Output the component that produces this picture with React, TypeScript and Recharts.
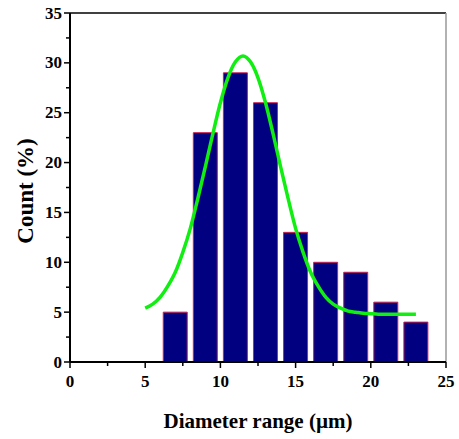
import React from 'react';
import { ComposedChart, Bar, Line, XAxis, YAxis, Label, ReferenceLine } from 'recharts';

// histogram bins (bin centre, µm) and counts (%)
const binCenters = [7, 9, 11, 13, 15, 17, 19, 21, 23];
const binCounts = [5, 23, 29, 26, 13, 10, 9, 6, 4];

// gaussian fit curve
const fitX = [5, 5.5, 6, 6.5, 7, 7.5, 8, 8.5, 9, 9.5, 10, 10.5, 11, 11.5, 12, 12.5, 13, 13.5, 14, 14.5, 15, 15.5, 16, 16.5, 17, 17.5, 18, 18.5, 19, 19.5, 20, 20.5, 21, 21.5, 22, 22.5, 23];
const fitY = [5.4, 5.8, 6.5, 7.6, 9.0, 11.0, 13.4, 16.4, 19.6, 22.9, 26.0, 28.5, 30.1, 30.7, 30.1, 28.5, 26.0, 22.9, 19.6, 16.4, 13.4, 11.0, 9.0, 7.6, 6.5, 5.8, 5.4, 5.1, 5.0, 4.9, 4.85, 4.8, 4.8, 4.8, 4.8, 4.8, 4.8];

const xTicks = [0, 2.5, 5, 7.5, 10, 12.5, 15, 17.5, 20, 22.5, 25];
const yTicks = [0, 2.5, 5, 7.5, 10, 12.5, 15, 17.5, 20, 22.5, 25, 27.5, 30, 32.5, 35];

const barData = binCenters.map((x, i) => ({ x, count: binCounts[i] }));
const fitData = fitX.map((x, i) => ({ fx: x, fit: fitY[i] }));

const FONT = '"Liberation Serif", "Times New Roman", serif';

const XTick = ({ x, y, payload }: any) => {
  const major = payload.value % 5 === 0;
  return (
    <g>
      <line x1={x} x2={x} y1={y} y2={y + (major ? 6 : 4)} stroke="#000" strokeWidth={1.5} />
      {major && (
        <text x={x} y={y + 25} textAnchor="middle" fontFamily={FONT} fontWeight="bold" fontSize={17} fill="#000">
          {payload.value}
        </text>
      )}
    </g>
  );
};

const YTick = ({ x, y, payload }: any) => {
  const major = payload.value % 5 === 0;
  return (
    <g>
      <line x1={x} x2={x - (major ? 6 : 4)} y1={y} y2={y} stroke="#000" strokeWidth={1.5} />
      {major && (
        <text x={x - 8} y={y + 5.5} textAnchor="end" fontFamily={FONT} fontWeight="bold" fontSize={17} fill="#000">
          {payload.value}
        </text>
      )}
    </g>
  );
};

export default function App() {
  return (
    <div style={{ position: 'absolute', left: 0, top: 0, width: 459, height: 439, background: '#fff' }}>
      <ComposedChart width={459} height={439} data={barData} margin={{ top: 13, right: 13, bottom: 0, left: 10 }}>
        <XAxis
          xAxisId="main"
          dataKey="x"
          type="number"
          domain={[0, 25]}
          ticks={xTicks}
          interval={0}
          tickSize={0}
          tickMargin={0}
          tickLine={false}
          tick={<XTick />}
          axisLine={{ stroke: '#000', strokeWidth: 2 }}
          height={77}
        >
          <Label
            content={() => (
              <text x={258} y={428} textAnchor="middle" fontFamily={FONT} fontWeight="bold" fontSize={21} fill="#000">
                Diameter range (µm)
              </text>
            )}
          />
        </XAxis>
        <XAxis xAxisId="fit" orientation="top" dataKey="fx" type="number" domain={[0, 25]} height={0} hide />
        <YAxis
          yAxisId="main"
          type="number"
          domain={[0, 35]}
          ticks={yTicks}
          interval={0}
          tickSize={0}
          tickMargin={0}
          tickLine={false}
          tick={<YTick />}
          axisLine={{ stroke: '#000', strokeWidth: 2 }}
          width={60}
        >
          <Label
            content={() => (
              <text x={33} y={191} transform="rotate(-90 33 191)" textAnchor="middle" fontFamily={FONT} fontWeight="bold" fontSize={23} fill="#000">
                Count (%)
              </text>
            )}
          />
        </YAxis>
        <ReferenceLine xAxisId="main" yAxisId="main" y={35} stroke="#000" strokeWidth={1.5} />
        <ReferenceLine xAxisId="main" yAxisId="main" x={25} stroke="#999" strokeWidth={1.5} />
        <Bar xAxisId="main" yAxisId="main" dataKey="count" barSize={24} fill="#000080" stroke="#d02050" strokeWidth={1} isAnimationActive={false} />
        <Line
          xAxisId="fit"
          yAxisId="main"
          data={fitData}
          dataKey="fit"
          type="monotone"
          stroke="#11ee11"
          strokeWidth={3.5}
          dot={false}
          activeDot={false}
          isAnimationActive={false}
        />
      </ComposedChart>
    </div>
  );
}
